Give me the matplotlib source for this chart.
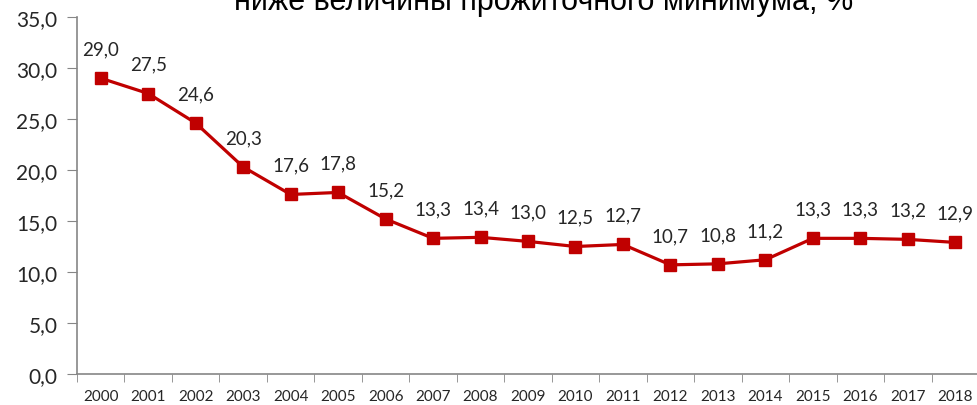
import matplotlib
matplotlib.use("Agg")
import matplotlib.pyplot as plt
from matplotlib.ticker import FixedLocator, NullFormatter

years = ["2000", "2001", "2002", "2003", "2004", "2005", "2006", "2007", "2008", "2009",
         "2010", "2011", "2012", "2013", "2014", "2015", "2016", "2017", "2018"]
values = [29.0, 27.5, 24.6, 20.3, 17.6, 17.8, 15.2, 13.3, 13.4, 13.0,
          12.5, 12.7, 10.7, 10.8, 11.2, 13.3, 13.3, 13.2, 12.9]
title = "ниже величины прожиточного минимума, %"

W, H = 978, 406
fig = plt.figure(figsize=(W / 100, H / 100), dpi=100)
ax = fig.add_axes([77 / W, (H - 375) / H, (979 - 77) / W, (375 - 18) / H])

red = "#C00000"
gray = "#868686"
txt = "#262626"
x = list(range(len(years)))
ax.plot(x, values, color=red, lw=2.3, marker="s", markersize=9, zorder=3)

for xi, v in zip(x, values):
    ax.annotate(f"{v:.1f}".replace(".", ","), (xi, v), xytext=(0, 15),
                textcoords="offset points", ha="center", va="bottom",
                fontsize=13.5, color=txt, family="Lato")

ax.set_xlim(-0.5, len(years) - 0.5)
ax.set_ylim(0, 35)
yt = [0, 5, 10, 15, 20, 25, 30, 35]
ax.set_yticks(yt)
ax.set_yticklabels([f"{t:.1f}".replace(".", ",") for t in yt],
                   fontsize=15, family="Lato", color=txt)
ax.set_xticks(x)
ax.set_xticklabels(years, fontsize=11, family="Lato", color=txt)
ax.tick_params(axis="x", which="major", length=0, pad=11)
ax.xaxis.set_minor_locator(FixedLocator([i - 0.5 for i in range(len(years) + 1)]))
ax.xaxis.set_minor_formatter(NullFormatter())
ax.tick_params(axis="x", which="minor", length=6, color=gray, direction="out")
ax.tick_params(axis="y", length=7, color=gray, direction="out", pad=7)

for s in ["top", "right"]:
    ax.spines[s].set_visible(False)
for s in ["left", "bottom"]:
    ax.spines[s].set_color(gray)
    ax.spines[s].set_linewidth(1.2)
ax.spines["bottom"].set_zorder(1)

fig.text(0.556, 1 - 10 / H, title, ha="center", va="baseline", fontsize=22,
         family="Liberation Sans", color="black")

fig.savefig("out.png", dpi=100)
